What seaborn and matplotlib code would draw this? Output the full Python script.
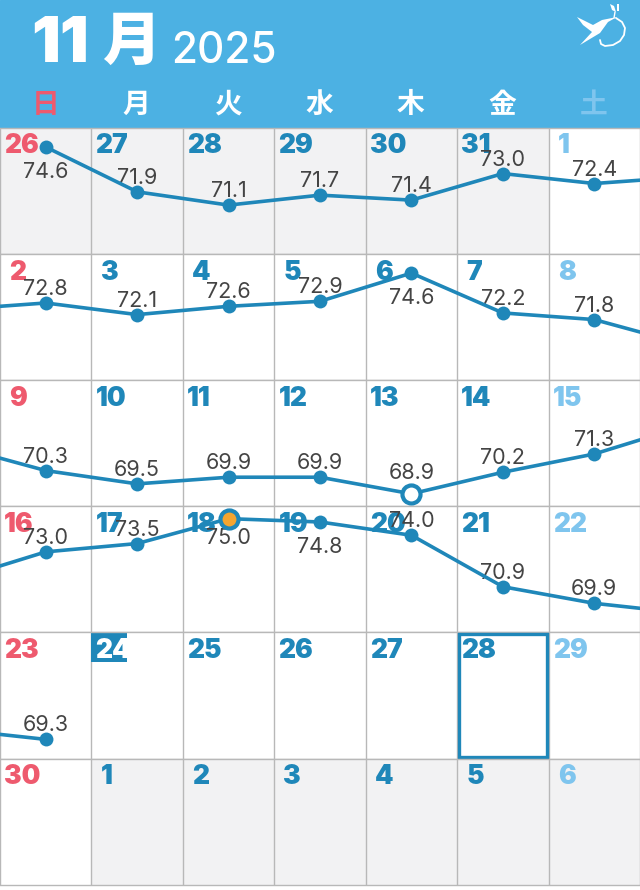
#!/usr/bin/python
# coding: utf-8
import pandas as pd
import seaborn as sns
import matplotlib.pyplot as plt
from matplotlib.patches import Polygon, Rectangle

# weekly calendar, None where nothing was recorded
weekdays = ["日", "月", "火", "水", "木", "金", "土"]
day_numbers = [
    [26, 27, 28, 29, 30, 31, 1],
    [2, 3, 4, 5, 6, 7, 8],
    [9, 10, 11, 12, 13, 14, 15],
    [16, 17, 18, 19, 20, 21, 22],
    [23, 24, 25, 26, 27, 28, 29],
    [30, 1, 2, 3, 4, 5, 6],
]
weights = [
    [74.6, 71.9, 71.1, 71.7, 71.4, 73.0, 72.4],
    [72.8, 72.1, 72.6, 72.9, 74.6, 72.2, 71.8],
    [70.3, 69.5, 69.9, 69.9, 68.9, 70.2, 71.3],
    [73.0, 73.5, 75.0, 74.8, 74.0, 70.9, 69.9],
    [69.3, None, None, None, None, None, None],
    [None, None, None, None, None, None, None],
]
other_month = [[0, 1, 2, 3, 4, 5], [], [], [], [], [1, 2, 3, 4, 5, 6]]

BLUE = "#1f87b9"
SKY = "#4cb1e3"
RED = "#ee5a6e"
LIGHT = "#7fc5ee"
GRID = "#b8b8b8"

W, H = 640, 890
ROW_TOP, ROW_H = 128, 126.1
KG_PER_ROW = 126.1 / 16.6
KG_TOP = 74.6 + 19 / 16.6

sns.set_style("white")
plt.rcParams["font.family"] = ["Inter", "Noto Sans CJK JP", "DejaVu Sans"]
fig = plt.figure(figsize=(W / 100, H / 100), dpi=100)

# header band
head = fig.add_axes([0, 1 - ROW_TOP / H, 1, ROW_TOP / H])
head.set_xlim(0, W)
head.set_ylim(ROW_TOP, 0)
head.axis("off")
head.add_patch(Rectangle((0, 0), W, ROW_TOP, color=SKY))
head.text(31, 62, "11", color="white", fontsize=46, fontweight="black", va="baseline")
head.text(102, 60, "月", color="white", fontsize=42, fontweight="black", va="baseline",
          family="Noto Sans CJK JP")
head.text(171, 63, "2025", color="white", fontsize=30.5, fontweight="medium", va="baseline")
for i, name in enumerate(weekdays):
    color = RED if i == 0 else LIGHT if i == 6 else "white"
    head.text((i + 0.5) * W / 7 - 0.5, 105, name, color=color, fontsize=20, fontweight="bold",
              ha="center", va="center", family="Noto Sans CJK JP")

# small bird logo
head.add_patch(Polygon([(577, 17), (593, 25), (602, 20), (607, 19), (617, 17), (608, 22),
                        (600, 33), (580, 45), (592, 32), (583, 25)], color="white", lw=0))
head.plot([616, 622, 625, 624, 620, 613, 605, 601, 600],
          [18, 22, 28, 35, 41, 45, 46, 44, 40], color="white", lw=1.3)
head.plot([615, 614], [12, 18], color="white", lw=1)
head.add_patch(Polygon([(610, 4), (614, 6), (616, 12), (612, 10)], color="white", lw=0))
head.add_patch(Polygon([(617, 4), (619, 4), (619, 11), (617, 11)], color="white", lw=0))

# one axes per week, y axis is the weight itself
for row, numbers in enumerate(day_numbers):
    top = ROW_TOP + row * ROW_H
    ax = fig.add_axes([0, 1 - (top + ROW_H) / H, 1, ROW_H / H])
    ax.set_xlim(0, 7)
    ax.set_ylim(KG_TOP - KG_PER_ROW, KG_TOP)

    for col in other_month[row]:
        ax.axvspan(col, col + 1, color="#f2f2f3", lw=0, zorder=0)
    ax.set_xticks(range(8))
    ax.set_yticks([])
    ax.set_xticklabels([])
    ax.grid(axis="x", color=GRID, lw=1)
    ax.set_axisbelow(True)
    ax.tick_params(length=0)
    for side in ["top", "bottom"]:
        ax.spines[side].set_color(GRID)
        ax.spines[side].set_linewidth(1)
    for side in ["left", "right"]:
        ax.spines[side].set_visible(False)

    # day numbers
    for col, num in enumerate(numbers):
        color = RED if col == 0 else LIGHT if col == 6 else BLUE
        box = None
        if row == 4 and col == 1:
            box = Rectangle((1, 1 - 30 / ROW_H), 36 / (W / 7), 29 / ROW_H, color=BLUE,
                            transform=ax.get_xaxis_transform(), lw=0, zorder=1)
            ax.add_patch(box)
            color = "white"
        shift = 0.045 if num >= 10 else 0.1
        label = ax.text(col + shift, KG_TOP - 18.5 / 16.6, str(num), color=color, fontsize=19,
                        fontweight="black", va="center", ha="left", zorder=2)
        if box is not None:
            label.set_clip_path(box)

    # selected day
    if row == 4:
        ax.add_patch(Rectangle((5.02, 0.01), 0.96, 0.98, fill=False, ec=BLUE, lw=2.4,
                               transform=ax.get_xaxis_transform(), zorder=5))

    # the line runs on over the week ends, so take one value from the next weeks
    xs, ys = [], []
    if row > 0 and weights[row - 1][6] is not None:
        xs.append(-0.5)
        ys.append(weights[row - 1][6])
    for col, kg in enumerate(weights[row]):
        if kg is not None:
            xs.append(col + 0.5)
            ys.append(kg)
    if row < 5 and weights[row + 1][0] is not None and weights[row][6] is not None:
        xs.append(7.5)
        ys.append(weights[row + 1][0])
    if xs:
        df = pd.DataFrame({"day": xs, "kg": ys})
        sns.lineplot(data=df, x="day", y="kg", ax=ax, color=BLUE, lw=2.6, marker="o",
                     markersize=10, markeredgewidth=0, zorder=4, errorbar=None)
    ax.set_xlabel("")
    ax.set_ylabel("")

    # weight labels, the high values go under their point
    for col, kg in enumerate(weights[row]):
        if kg is None:
            continue
        dy = 19 if kg >= 75 else 25 if kg >= 74.5 else -14
        if numbers[col] == 13:
            dy = -21
        ax.text(col + 0.5, kg - dy / 16.6, "%.1f" % kg, color="#444444", fontsize=15.5,
                ha="center", va="center", zorder=3)
        if numbers[col] == 18:
            ax.plot(col + 0.5, kg, "o", ms=13, mfc="#f5a52f", mec=BLUE, mew=3, zorder=6)
        if numbers[col] == 13:
            ax.plot(col + 0.5, kg, "o", ms=13, mfc="white", mec=BLUE, mew=3, zorder=6)

fig.savefig("out.png", dpi=100)
